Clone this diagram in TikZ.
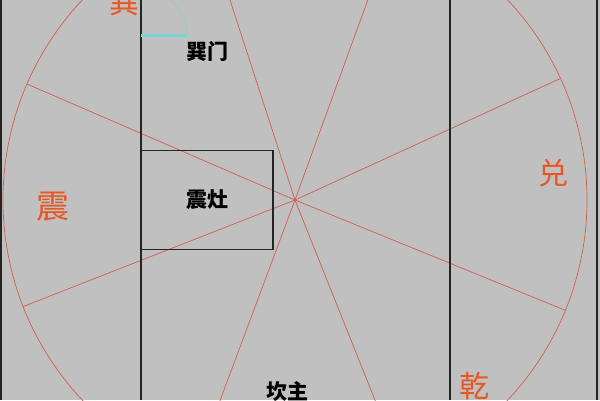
\documentclass[tikz,border=0pt]{standalone}
\usepackage{fontspec}
\newfontfamily\cjk{Noto Sans CJK SC}
\definecolor{bggray}{RGB}{192,192,192}
\definecolor{spokered}{RGB}{206,96,78}
\definecolor{guared}{RGB}{232,86,36}
\definecolor{doorcyan}{RGB}{122,212,212}
\definecolor{wallgray}{RGB}{36,36,36}

\begin{document}
\begin{tikzpicture}[x = 1pt, y = -1pt]
		\tikzstyle{every node} = [inner sep = 0pt]
		\tikzstyle{wall} = [wallgray, line width = 1.3pt]
		\tikzstyle{spoke} = [spokered, line width = .7pt]
		\tikzstyle{door} = [doorcyan]
		\tikzstyle{gua} = [guared, font = \cjk\fontsize{30}{30}\selectfont]
		\tikzstyle{room} = [black, font = \cjk\bfseries\fontsize{21}{21}\selectfont]
		\useasboundingbox (0,0) rectangle (600,400);
		\fill [bggray] (0,0) rectangle (600,400);
		\clip (0,0) rectangle (600,400);

		% circle and the eight spokes
		\coordinate (ctr) at (295,200);
		\draw [spoke] (ctr) circle [radius = 292];
		\foreach \a in {-24.6,-70,-108,-156.6,158.6,110.5,68.2,22.2}
		{
			\draw [spoke] (ctr) -- ++(\a:292);
		}

		% walls
		\draw [wall] (1,0) -- (1,400); %left edge
		\draw [wall] (141,0) -- (141,400);
		\draw [wall] (450,0) -- (450,400);
		\draw [wall] (597,0) -- (597,400); %right edge

		% stove box
		\node [room, draw = wallgray, line width = 1.3pt, minimum width = 132pt, minimum height = 99pt] (zao) at (207,200) {震灶};

		% door
		\coordinate (hinge) at (141,35);
		\draw [door, line width = 3pt] (hinge) -- ++(46,0) coordinate (leaf);
		\draw [doorcyan!60!bggray, line width = .8pt] (leaf) arc [start angle = 0, end angle = -90, radius = 46];

		% labels
		\node [gua] (xun) at (124,3) {巽};
		\node [gua, font = \cjk\fontsize{33}{33}\selectfont] (zhen) at (53,207) {震};
		\node [gua] (dui) at (553,173) {兑};
		\node [gua] (qian) at (474,386) {乾};
		\node [room] (xunmen) at (207,51) {巽门};
		\node [room] (kanzhu) at (287,391) {坎主};
	\end{tikzpicture}
\end{document}
